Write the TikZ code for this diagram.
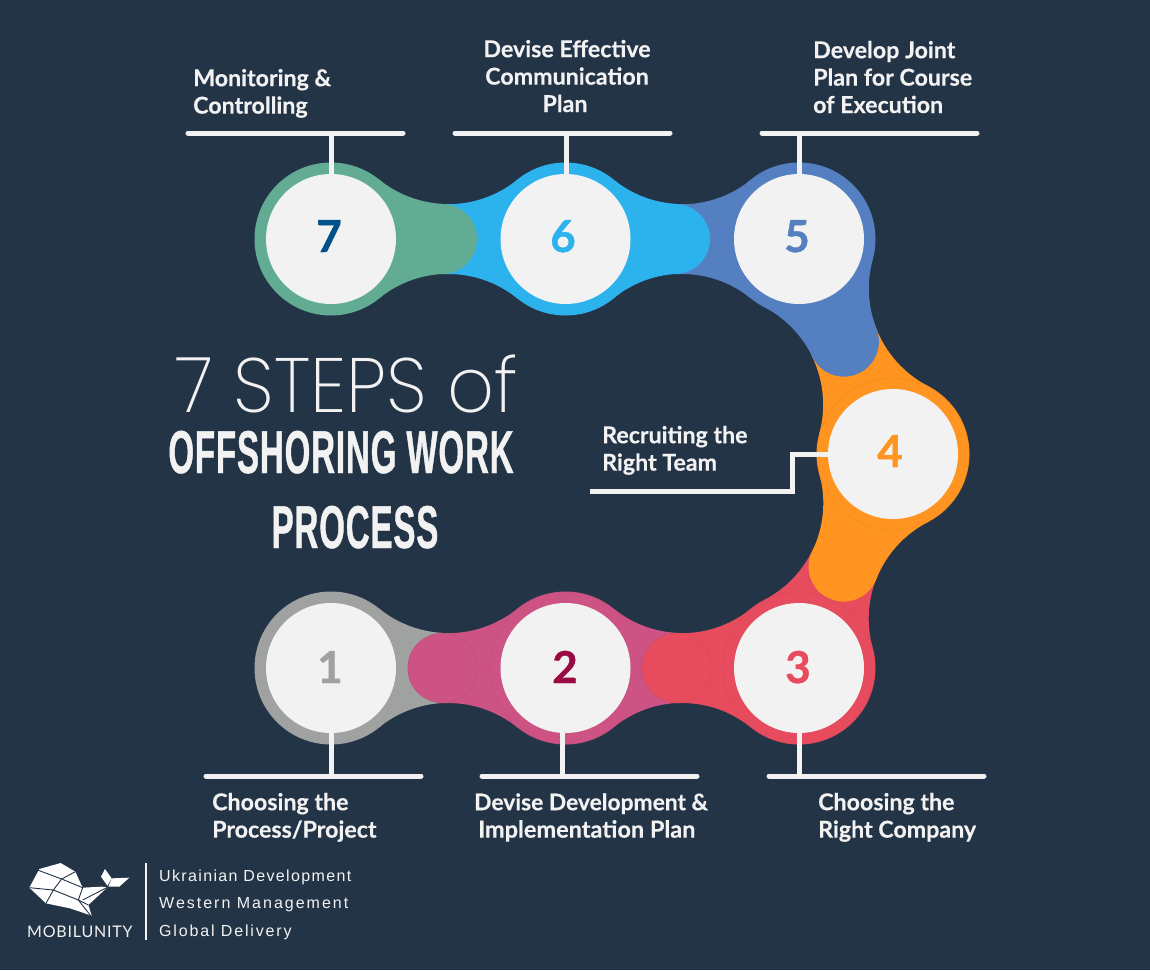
\documentclass[tikz,border=0pt]{standalone}
\usepackage{fontspec}
\setmainfont{Lato}
\newfontfamily\labelfont{Lato}[UprightFont=* Bold,FakeBold=0.35]
\newfontfamily\numfont{Lato}[UprightFont=* Bold,FakeBold=1.0]
\newfontfamily\thinfont{Poppins}[UprightFont=* ExtraLight,FakeStretch=0.95]
\newfontfamily\heavyfont{Liberation Sans}[UprightFont=* Bold,FakeStretch=0.545,FakeBold=0.7,LetterSpace=1.5]
\newfontfamily\footfont{Liberation Sans}[LetterSpace=8.5]
\newfontfamily\footfontb{Liberation Sans}[LetterSpace=12.5]
\newfontfamily\footfontc{Liberation Sans}[LetterSpace=11.5]
\newfontfamily\brandfont{Lato}[LetterSpace=5]
\definecolor{bg}{HTML}{243447}
\definecolor{paper}{HTML}{F2F2F2}
\definecolor{cone}{HTML}{A0A2A1}
\definecolor{ctwo}{HTML}{CC5383}
\definecolor{cthree}{HTML}{E64C5D}
\definecolor{cfour}{HTML}{FF9421}
\definecolor{cfive}{HTML}{5480C1}
\definecolor{csix}{HTML}{2CB3EE}
\definecolor{cseven}{HTML}{61AC92}
\definecolor{ntwo}{HTML}{9A0B44}
\definecolor{nseven}{HTML}{00508A}
\def\Rout{76.5}
\def\Hn{35}
% half of a link: from (#1,#2) towards (#3,#4), colour #5, ending at distance #6
\newcommand\neckpart[6]{%
  \pgfmathsetmacro\dd{veclen(#3-#1,#4-#2)}%
  \pgfmathsetmacro\ang{atan2(-(#4-#2),#3-#1)}%
  \pgfmathsetmacro\RR{((\dd/2)*(\dd/2)-\Rout*\Rout+\Hn*\Hn)/(2*\Rout-2*\Hn)}%
  \pgfmathsetmacro\tta{atan2(\Hn+\RR,\dd/2)}%
  \pgfmathsetmacro\Ee{270+asin((#6-\dd/2)/\RR)}%
  \begin{scope}[shift={(#1,#2)},rotate=\ang,x=1pt,y=1pt]
    \fill[#5] (\tta:\Rout) arc[start angle=180+\tta,end angle=\Ee,radius=\RR]
      -- (#6,-\Hn) arc[start angle=-\Ee,end angle=-180-\tta,radius=\RR] -- cycle;
  \end{scope}}
% upper blob at (#1,#2) with cap towards (#3,#4) lying over the lower blob
\newcommand\chainlink[7]{%
  \pgfmathsetmacro\dq{veclen(#3-#1,#4-#2)}%
  \pgfmathsetmacro\cq{\dq-#7}%
  \neckpart{#3}{#4}{#1}{#2}{#6}{\cq}%
  \fill[#5] (#1,#2) circle[radius=\Rout];
  \neckpart{#1}{#2}{#3}{#4}{#5}{#7}%
  \pgfmathsetmacro\ang{atan2(-(#4-#2),#3-#1)}%
  \begin{scope}[shift={(#1,#2)},rotate=\ang,x=1pt,y=1pt]
    \fill[#5] (#7,0) circle[radius=\Hn];
  \end{scope}}
\tikzset{
  barline/.style={draw=paper,line width=5pt,line cap=round},
  leader/.style={draw=paper,line width=5pt},
  disc/.style={circle,fill=paper,minimum size=130pt,inner sep=0pt,outer sep=0pt},
  numeral/.style={font=\numfont\fontsize{44}{44}\selectfont,anchor=base,inner sep=0pt},
  lab/.style={font=\labelfont\fontsize{23.2}{27.4}\selectfont,text=paper,inner sep=0pt,anchor=north west,align=left},
  labc/.style={lab,anchor=north,align=center},
  foot/.style={font=\footfont\fontsize{16}{27.4}\selectfont,text=paper,inner sep=0pt,anchor=north west,align=left},
  ringline/.style={line width=0.4pt,opacity=0.3},
  titleheavy/.style={font=\heavyfont\fontsize{60.5}{60}\selectfont,text=paper,anchor=base,inner sep=0pt},
}
\newcommand\fs{\rule{0pt}{20pt}}
\begin{document}
\begin{tikzpicture}[x=1pt,y=-1pt]
\useasboundingbox (0,0) rectangle (1150,970);
\fill[bg] (0,0) rectangle (1150,970);
% chain
\fill[cone] (331,668) circle[radius=\Rout];
\chainlink{565.5}{668}{331}{668}{ctwo}{cone}{123}
\chainlink{799}{668}{565.5}{668}{cthree}{ctwo}{122}
\chainlink{893}{454}{799}{668}{cfour}{cthree}{123}
\chainlink{799}{239}{893}{454}{cfive}{cfour}{112}
\chainlink{565.5}{239}{799}{239}{csix}{cfive}{109.5}
\chainlink{331}{239}{565.5}{239}{cseven}{csix}{111}
% faint rings
\draw[ringline,draw=ctwo!80!black] (565.5,668) circle[radius=76] (443,668) circle[radius=35];
\draw[ringline,draw=cthree!80!black] (799,668) circle[radius=76] (677,668) circle[radius=35];
\draw[ringline,draw=cfour!80!black] (893,454) circle[radius=76];
% discs
\node[disc] (c1) at (331,668) {};
\node[disc] (c2) at (565.5,668) {};
\node[disc] (c3) at (799,668) {};
\node[disc] (c4) at (893,454) {};
\node[disc] (c5) at (799,239) {};
\node[disc] (c6) at (565.5,239) {};
\node[disc] (c7) at (331,239) {};
% numerals
\node[numeral,text=cone] (n1) at (330,683) {1};
\node[numeral,text=ntwo] (n2) at (565,683) {2};
\node[numeral,text=cthree] (n3) at (798,683) {3};
\node[numeral,text=cfour] (n4) at (890,467) {4};
\node[numeral,text=cfive] (n5) at (797,252) {5};
\node[numeral,text=csix] (n6) at (563,252) {6};
\node[numeral,text=nseven] (n7) at (329,252) {7};
% bars
\coordinate (a7) at (188,133); \coordinate (b7) at (403,133); \coordinate (t7) at (331,133);
\coordinate (a6) at (455,133); \coordinate (b6) at (670,133); \coordinate (t6) at (566,133);
\coordinate (a5) at (762,133); \coordinate (b5) at (977,133); \coordinate (t5) at (799,133);
\coordinate (a1) at (206,776); \coordinate (b1) at (421,776); \coordinate (t1) at (331,776);
\coordinate (a2) at (482,776); \coordinate (b2) at (697,776); \coordinate (t2) at (562,776);
\coordinate (a3) at (769,776); \coordinate (b3) at (984,776); \coordinate (t3) at (799,776);
\draw[barline] (a7) -- (b7); \draw[leader] (t7) -- (t7 |- c7.north);
\draw[barline] (a6) -- (b6); \draw[leader] (t6) -- (t6 |- c6.north);
\draw[barline] (a5) -- (b5); \draw[leader] (t5) -- (t5 |- c5.north);
\draw[barline] (a1) -- (b1); \draw[leader] (t1) -- (t1 |- c1.south);
\draw[barline] (a2) -- (b2); \draw[leader] (t2) -- (t2 |- c2.south);
\draw[barline] (a3) -- (b3); \draw[leader] (t3) -- (t3 |- c3.south);
\coordinate (k4a) at (792,454); \coordinate (k4b) at (792,491); \coordinate (e4) at (590,491);
\draw[leader] (c4.west) -- (k4a) -- (k4b) -- (e4);
% labels
\node[lab] (l7) at (193,66) {\fs Monitoring \&\\Controlling};
\node[labc] (l6) at (567,37) {\fs Devise Effective\\Communication\\\hspace*{0pt}Plan\hspace*{4pt}};
\node[lab] (l5) at (813,38) {\fs Develop Joint\\Plan for Course\\of Execution};
\node[lab] (l4) at (602,423) {\fs Recruiting the\\Right Team};
\node[lab] (l1) at (212,790) {\fs Choosing the\\Process/Project};
\node[lab] (l2) at (474,790) {\fs {\fontsize{22.8}{27.4}\selectfont Devise Development \&}\\\hspace*{4pt}{\fontsize{23.5}{27.4}\selectfont Implementation Plan}};
\node[lab] (l3) at (818,790) {\fs Choosing the\\Right Company};
% title
\node[font=\thinfont\fontsize{77}{76}\selectfont,text=paper,anchor=base,inner sep=0pt] (t1a) at (347,412) {7 STEPS of};
\node[titleheavy] (t2a) at (341,473) {OFFSHORING WORK};
\node[titleheavy] (t3a) at (355,548) {PROCESS};
% logo
\begin{scope}[shift={(20,855)},scale=1/3]
  \fill[white] (58,42) -- (122,24) -- (166,50) -- (188,98) -- (245,95) -- (262,97) -- (205,150) -- (215,182) -- (150,160) -- (78,145) -- (28,98) -- cycle;
  \fill[white] (255,42) -- (275,70) -- (262,92) -- (243,65) -- cycle;
  \fill[white] (275,70) -- (328,68) -- (298,95) -- (265,95) -- cycle;
  \draw[bg,line width=0.9pt] (50,44) -- (125,72) -- (166,50) (125,72) -- (100,105) -- (28,98) (125,72) -- (188,98) -- (175,135) -- (100,105) (175,135) -- (212,182) (78,145) -- (100,105) (188,135) -- (262,97) (175,135) -- (205,150);
\end{scope}
\node[font=\brandfont\fontsize{16}{16}\selectfont,text=paper,anchor=base west,inner sep=0pt] (brand) at (27,937) {MOBILUNITY};
\coordinate (sa) at (146,863); \coordinate (sb) at (146,940);
\draw[paper,line width=1.5pt] (sa) -- (sb);
\node[foot] (f) at (159,861) {\rule{0pt}{20pt}Ukrainian Development\\{\footfontb\fontsize{16}{27.4}\selectfont Western Management}\\{\footfontc\fontsize{16}{27.4}\selectfont Global Delivery}};
\end{tikzpicture}
\end{document}
